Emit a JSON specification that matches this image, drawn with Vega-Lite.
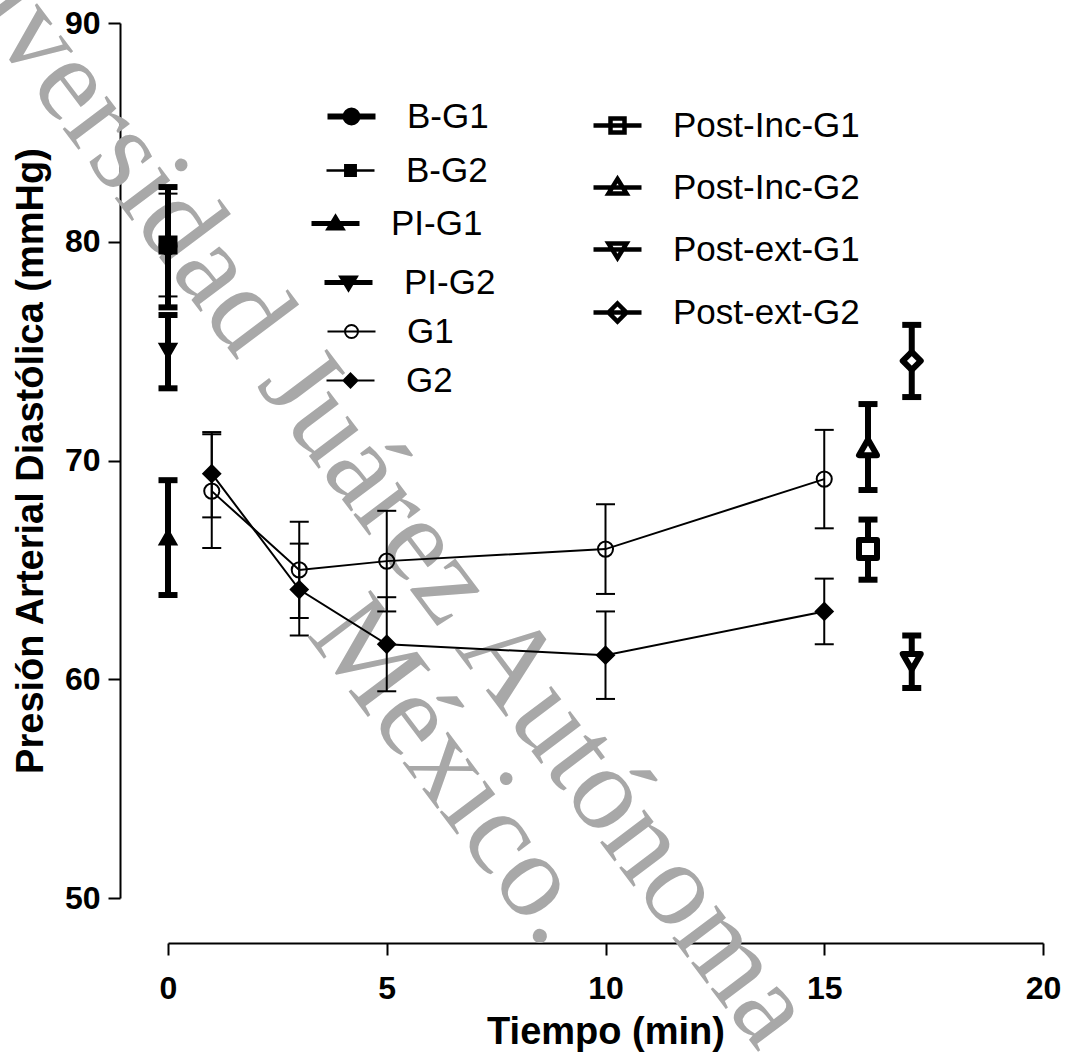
{
  "$schema": "https://vega.github.io/schema/vega-lite/v6.json",
  "width": 875,
  "height": 875,
  "autosize": "none",
  "padding": {"left": 168, "top": 23, "right": 24, "bottom": 159},
  "background": "white",
  "config": {
    "view": {"stroke": null},
    "axis": {
      "grid": false,
      "domainColor": "black",
      "domainWidth": 2,
      "tickColor": "black",
      "tickWidth": 2,
      "tickSize": 12,
      "labelFont": "Liberation Sans",
      "labelFontWeight": "bold",
      "labelFontSize": 32,
      "labelColor": "black",
      "labelFlush": false,
      "labelOverlap": false,
      "titleFont": "Liberation Sans",
      "titleFontWeight": "bold",
      "titleFontSize": 38,
      "titleColor": "black"
    },
    "legend": {
      "padding": 0,
      "labelFont": "Liberation Sans",
      "labelFontSize": 35,
      "labelColor": "black",
      "labelLimit": 500,
      "labelOffset": 38,
      "symbolSize": 400,
      "title": null,
      "orient": "none"
    }
  },
  "datasets": {
    "pts": [
      {"series": "B-G1", "t": 0, "m": 79.8, "lo": 77.0, "hi": 82.5},
      {"series": "B-G2", "t": 0, "m": 79.85, "lo": 77.5, "hi": 82.2},
      {"series": "PI-G1", "t": 0, "m": 66.5, "lo": 63.85, "hi": 69.1},
      {"series": "PI-G2", "t": 0, "m": 75.0, "lo": 73.3, "hi": 76.65},
      {"series": "G1", "t": 1, "m": 68.6, "lo": 66.0, "hi": 71.2},
      {"series": "G1", "t": 3, "m": 65.0, "lo": 62.8, "hi": 67.2},
      {"series": "G1", "t": 5, "m": 65.4, "lo": 63.1, "hi": 67.7},
      {"series": "G1", "t": 10, "m": 65.95, "lo": 63.9, "hi": 68.0},
      {"series": "G1", "t": 15, "m": 69.15, "lo": 66.9, "hi": 71.4},
      {"series": "G2", "t": 1, "m": 69.4, "lo": 67.4, "hi": 71.3},
      {"series": "G2", "t": 3, "m": 64.1, "lo": 62.0, "hi": 66.2},
      {"series": "G2", "t": 5, "m": 61.6, "lo": 59.45, "hi": 63.75},
      {"series": "G2", "t": 10, "m": 61.1, "lo": 59.1, "hi": 63.1},
      {"series": "G2", "t": 15, "m": 63.1, "lo": 61.6, "hi": 64.6},
      {"series": "Post-Inc-G1", "t": 16, "m": 65.95, "lo": 64.55, "hi": 67.3},
      {"series": "Post-Inc-G2", "t": 16, "m": 70.6, "lo": 68.65, "hi": 72.58},
      {"series": "Post-ext-G1", "t": 17, "m": 60.8, "lo": 59.6, "hi": 62.0},
      {"series": "Post-ext-G2", "t": 17, "m": 74.55, "lo": 72.9, "hi": 76.2}
    ],
    "wm": [
      {"k": 1, "txt": "Universidad Juárez Autónoma", "x": 13.51, "y": 42.91},
      {"k": 2, "txt": "México.", "x": 3.15, "y": 62.05}
    ]
  },
  "resolve": {"scale": {"shape": "independent"}},
  "layer": [
    {
      "data": {"name": "wm"},
      "transform": [{"filter": "datum.k == 1"}],
      "mark": {"type": "text", "align": "right", "baseline": "alphabetic", "angle": 53, "font": "Liberation Serif", "fontSize": 120, "color": "#a8a8a8"},
      "encoding": {
        "x": {"field": "x", "type": "quantitative", "scale": {"domain": [0, 20], "nice": false, "zero": false}, "title": "Tiempo (min)"},
        "y": {"field": "y", "type": "quantitative", "scale": {"domain": [50, 90], "nice": false, "zero": false}, "title": "Presión Arterial Diastólica (mmHg)"},
        "text": {"field": "txt"}
      }
    },
    {
      "data": {"name": "wm"},
      "transform": [{"filter": "datum.k == 2"}],
      "mark": {"type": "text", "align": "left", "baseline": "alphabetic", "angle": 53, "font": "Liberation Serif", "fontSize": 120, "color": "#a8a8a8"},
      "encoding": {
        "x": {"field": "x", "type": "quantitative", "title": "Tiempo (min)"},
        "y": {"field": "y", "type": "quantitative", "title": "Presión Arterial Diastólica (mmHg)"},
        "text": {"field": "txt"}
      }
    },
    {
      "data": {"name": "pts"},
      "transform": [{"filter": {"field": "series", "oneOf": ["G1", "G2"]}}],
      "mark": {"type": "line", "color": "black", "strokeWidth": 2},
      "encoding": {
        "x": {"field": "t", "type": "quantitative", "title": "Tiempo (min)"},
        "y": {"field": "m", "type": "quantitative", "title": "Presión Arterial Diastólica (mmHg)"},
        "detail": {"field": "series"}
      }
    },
    {
      "data": {"name": "pts"},
      "transform": [{"filter": {"field": "series", "oneOf": ["B-G1", "PI-G1", "PI-G2", "Post-Inc-G1", "Post-Inc-G2", "Post-ext-G1", "Post-ext-G2"]}}],
      "mark": {"type": "rule", "color": "black", "strokeWidth": 6},
      "encoding": {
        "x": {"field": "t", "type": "quantitative", "title": "Tiempo (min)",
              "axis": {"values": [0, 5, 10, 15, 20], "offset": 45, "labelPadding": 18, "titlePadding": 9}},
        "y": {"field": "lo", "type": "quantitative", "title": "Presión Arterial Diastólica (mmHg)",
              "axis": {"values": [50, 60, 70, 80, 90], "offset": 48, "labelPadding": 8, "titlePadding": 14}},
        "y2": {"field": "hi"}
      }
    },
    {
      "data": {"name": "pts"},
      "transform": [{"filter": {"field": "series", "oneOf": ["B-G2", "G1", "G2"]}}],
      "mark": {"type": "rule", "color": "black", "strokeWidth": 2},
      "encoding": {
        "x": {"field": "t", "type": "quantitative", "title": "Tiempo (min)"},
        "y": {"field": "lo", "type": "quantitative", "title": "Presión Arterial Diastólica (mmHg)"},
        "y2": {"field": "hi"}
      }
    },
    {
      "data": {"name": "pts"},
      "transform": [{"filter": {"field": "series", "oneOf": ["B-G1", "PI-G1", "PI-G2", "Post-Inc-G1", "Post-Inc-G2", "Post-ext-G1", "Post-ext-G2"]}}],
      "mark": {"type": "tick", "orient": "horizontal", "color": "black", "thickness": 6, "size": 19, "opacity": 1},
      "encoding": {
        "x": {"field": "t", "type": "quantitative", "title": "Tiempo (min)"},
        "y": {"field": "lo", "type": "quantitative", "title": "Presión Arterial Diastólica (mmHg)"}
      }
    },
    {
      "data": {"name": "pts"},
      "transform": [{"filter": {"field": "series", "oneOf": ["B-G1", "PI-G1", "PI-G2", "Post-Inc-G1", "Post-Inc-G2", "Post-ext-G1", "Post-ext-G2"]}}],
      "mark": {"type": "tick", "orient": "horizontal", "color": "black", "thickness": 6, "size": 19, "opacity": 1},
      "encoding": {
        "x": {"field": "t", "type": "quantitative", "title": "Tiempo (min)"},
        "y": {"field": "hi", "type": "quantitative", "title": "Presión Arterial Diastólica (mmHg)"}
      }
    },
    {
      "data": {"name": "pts"},
      "transform": [{"filter": {"field": "series", "oneOf": ["B-G2", "G1", "G2"]}}],
      "mark": {"type": "tick", "orient": "horizontal", "color": "black", "thickness": 2, "size": 19, "opacity": 1},
      "encoding": {
        "x": {"field": "t", "type": "quantitative", "title": "Tiempo (min)"},
        "y": {"field": "lo", "type": "quantitative", "title": "Presión Arterial Diastólica (mmHg)"}
      }
    },
    {
      "data": {"name": "pts"},
      "transform": [{"filter": {"field": "series", "oneOf": ["B-G2", "G1", "G2"]}}],
      "mark": {"type": "tick", "orient": "horizontal", "color": "black", "thickness": 2, "size": 19, "opacity": 1},
      "encoding": {
        "x": {"field": "t", "type": "quantitative", "title": "Tiempo (min)"},
        "y": {"field": "hi", "type": "quantitative", "title": "Presión Arterial Diastólica (mmHg)"}
      }
    },
    {
      "data": {"name": "pts"},
      "transform": [{"filter": {"field": "series", "oneOf": ["B-G1", "B-G2", "PI-G1", "PI-G2", "G1", "G2"]}}],
      "mark": {"type": "point", "filled": true, "stroke": "black", "strokeWidth": 2, "opacity": 1},
      "encoding": {
        "x": {"field": "t", "type": "quantitative", "title": "Tiempo (min)"},
        "y": {"field": "m", "type": "quantitative", "title": "Presión Arterial Diastólica (mmHg)"},
        "shape": {
          "field": "series", "type": "nominal",
          "scale": {"domain": ["B-G1", "B-G2", "PI-G1", "PI-G2", "G1", "G2"], "range": ["circle", "square", "triangle-up", "triangle-down", "circle", "diamond"]},
          "legend": null
        },
        "fill": {"condition": {"test": "datum.series === 'G1'", "value": "transparent"}, "value": "black"},
        "size": {"condition": {"test": "datum.series === 'G1'", "value": 227}, "value": 289}
      }
    },
    {
      "data": {"name": "pts"},
      "transform": [{"filter": {"field": "series", "oneOf": ["Post-Inc-G1", "Post-Inc-G2", "Post-ext-G1", "Post-ext-G2"]}}],
      "mark": {"type": "point", "filled": true, "fill": "white", "stroke": "black", "strokeWidth": 6, "strokeJoin": "round", "opacity": 1, "size": 324},
      "encoding": {
        "x": {"field": "t", "type": "quantitative", "title": "Tiempo (min)"},
        "y": {"field": "m", "type": "quantitative", "title": "Presión Arterial Diastólica (mmHg)"},
        "shape": {
          "field": "series", "type": "nominal",
          "scale": {"domain": ["Post-Inc-G1", "Post-Inc-G2", "Post-ext-G1", "Post-ext-G2"], "range": ["square", "triangle-up", "triangle-down", "diamond"]},
          "legend": null
        }
      }
    },
    {
      "data": {"name": "pts"},
      "transform": [{"filter": "false"}],
      "mark": {"type": "point", "filled": true, "fill": "black", "stroke": "black", "opacity": 1, "size": 400},
      "encoding": {
        "x": {"field": "t", "type": "quantitative", "title": "Tiempo (min)"},
        "y": {"field": "m", "type": "quantitative", "title": "Presión Arterial Diastólica (mmHg)"},
        "shape": {
          "field": "series", "type": "nominal",
          "scale": {"domain": ["B-G1"], "range": ["M-2.4,0L2.4,0M-0.6,0A0.6,0.6,0,1,1,0.6,0A0.6,0.6,0,1,1,-0.6,0Z"]},
          "legend": {"legendX": 166, "legendY": 76, "symbolStrokeWidth": 6}
        }
      }
    },
    {
      "data": {"name": "pts"},
      "transform": [{"filter": "false"}],
      "mark": {"type": "point", "filled": true, "fill": "black", "stroke": "black", "opacity": 1, "size": 400},
      "encoding": {
        "x": {"field": "t", "type": "quantitative", "title": "Tiempo (min)"},
        "y": {"field": "m", "type": "quantitative", "title": "Presión Arterial Diastólica (mmHg)"},
        "shape": {
          "field": "series", "type": "nominal",
          "scale": {"domain": ["B-G2"], "range": ["M-2.4,0L2.4,0M-0.52,-0.52L0.52,-0.52L0.52,0.52L-0.52,0.52Z"]},
          "legend": {"legendX": 165, "legendY": 130, "symbolStrokeWidth": 2.5}
        }
      }
    },
    {
      "data": {"name": "pts"},
      "transform": [{"filter": "false"}],
      "mark": {"type": "point", "filled": true, "fill": "black", "stroke": "black", "opacity": 1, "size": 400},
      "encoding": {
        "x": {"field": "t", "type": "quantitative", "title": "Tiempo (min)"},
        "y": {"field": "m", "type": "quantitative", "title": "Presión Arterial Diastólica (mmHg)"},
        "shape": {
          "field": "series", "type": "nominal",
          "scale": {"domain": ["PI-G1"], "range": ["M-2.4,0L2.4,0M0,-0.55L0.6,0.45L-0.6,0.45Z"]},
          "legend": {"legendX": 150, "legendY": 183, "symbolStrokeWidth": 5}
        }
      }
    },
    {
      "data": {"name": "pts"},
      "transform": [{"filter": "false"}],
      "mark": {"type": "point", "filled": true, "fill": "black", "stroke": "black", "opacity": 1, "size": 400},
      "encoding": {
        "x": {"field": "t", "type": "quantitative", "title": "Tiempo (min)"},
        "y": {"field": "m", "type": "quantitative", "title": "Presión Arterial Diastólica (mmHg)"},
        "shape": {
          "field": "series", "type": "nominal",
          "scale": {"domain": ["PI-G2"], "range": ["M-2.4,0L2.4,0M0,0.55L0.6,-0.45L-0.6,-0.45Z"]},
          "legend": {"legendX": 163, "legendY": 242, "symbolStrokeWidth": 5}
        }
      }
    },
    {
      "data": {"name": "pts"},
      "transform": [{"filter": "false"}],
      "mark": {"type": "point", "filled": true, "fill": "white", "stroke": "black", "opacity": 1, "size": 400},
      "encoding": {
        "x": {"field": "t", "type": "quantitative", "title": "Tiempo (min)"},
        "y": {"field": "m", "type": "quantitative", "title": "Presión Arterial Diastólica (mmHg)"},
        "shape": {
          "field": "series", "type": "nominal",
          "scale": {"domain": ["G1"], "range": ["M-2.4,0L2.4,0M-0.65,0A0.65,0.65,0,1,1,0.65,0A0.65,0.65,0,1,1,-0.65,0Z"]},
          "legend": {"legendX": 166, "legendY": 291, "symbolStrokeWidth": 2}
        }
      }
    },
    {
      "data": {"name": "pts"},
      "transform": [{"filter": "false"}],
      "mark": {"type": "point", "filled": true, "fill": "black", "stroke": "black", "opacity": 1, "size": 400},
      "encoding": {
        "x": {"field": "t", "type": "quantitative", "title": "Tiempo (min)"},
        "y": {"field": "m", "type": "quantitative", "title": "Presión Arterial Diastólica (mmHg)"},
        "shape": {
          "field": "series", "type": "nominal",
          "scale": {"domain": ["G2"], "range": ["M-2.4,0L2.4,0M0,-0.7L0.7,0L0,0.7L-0.7,0Z"]},
          "legend": {"legendX": 165, "legendY": 340, "symbolStrokeWidth": 2}
        }
      }
    },
    {
      "data": {"name": "pts"},
      "transform": [{"filter": "false"}],
      "mark": {"type": "point", "filled": true, "fill": "white", "stroke": "black", "opacity": 1, "size": 400},
      "encoding": {
        "x": {"field": "t", "type": "quantitative", "title": "Tiempo (min)"},
        "y": {"field": "m", "type": "quantitative", "title": "Presión Arterial Diastólica (mmHg)"},
        "shape": {
          "field": "series", "type": "nominal",
          "scale": {
            "domain": ["Post-Inc-G1", "Post-Inc-G2", "Post-ext-G1", "Post-ext-G2"],
            "range": [
              "M-2.4,0L2.4,0M-0.7,-0.7L0.7,-0.7L0.7,0.7L-0.7,0.7Z",
              "M-2.4,0L2.4,0M0,-0.85L0.9,0.6L-0.9,0.6Z",
              "M-2.4,0L2.4,0M0,0.85L0.9,-0.6L-0.9,-0.6Z",
              "M-2.4,0L2.4,0M0,-0.9L0.9,0L0,0.9L-0.9,0Z"
            ]
          },
          "legend": {"legendX": 432, "legendY": 85, "rowPadding": 26, "symbolStrokeWidth": 4.5}
        }
      }
    }
  ]
}
